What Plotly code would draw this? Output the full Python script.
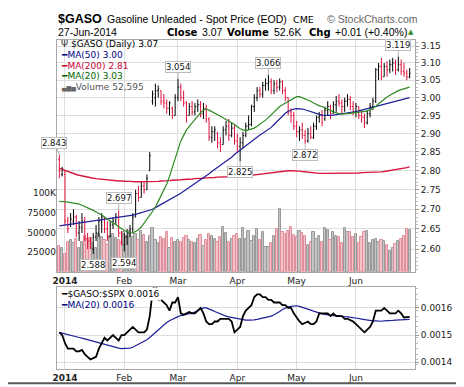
import math
import pandas as pd
import plotly.graph_objects as go

# ---------------- data ----------------
holidays = ["2014-01-01", "2014-01-20", "2014-02-17", "2014-04-18", "2014-05-26"]
dates = [d for d in pd.bdate_range("2013-12-30", "2014-06-27") if d.strftime("%Y-%m-%d") not in holidays]

opens = [2.83, 2.79, 2.79, 2.67, 2.66, 2.67, 2.68, 2.64, 2.655, 2.67, 2.625, 2.62, 2.60, 2.63, 2.64, 2.67,
         2.68, 2.65, 2.63, 2.66, 2.67, 2.68, 2.64, 2.61, 2.63, 2.64, 2.65, 2.68, 2.74, 2.73, 2.76, 2.75,
         2.80, 2.99, 3.00, 3.02, 3.02, 2.99, 2.985, 2.97, 2.97, 2.95, 3.00, 3.03, 3.00, 2.985, 2.95, 2.975,
         2.96, 2.975, 2.98, 2.955, 2.97, 2.94, 2.89, 2.905, 2.90, 2.875, 2.87, 2.91, 2.92, 2.895, 2.915,
         2.88, 2.865, 2.875, 2.895, 2.92, 2.925, 2.975, 3.00, 3.02, 3.01, 3.035, 3.04, 3.045, 3.02, 3.04,
         3.03, 3.045, 3.02, 3.00, 2.96, 2.95, 2.92, 2.905, 2.91, 2.895, 2.88, 2.90, 2.89, 2.92, 2.945,
         2.95, 2.94, 2.965, 2.975, 2.955, 2.98, 2.99, 2.985, 2.975, 2.99, 2.995, 2.975, 2.96, 2.975, 2.95,
         2.945, 2.93, 2.955, 2.975, 2.99, 3.08, 3.09, 3.06, 3.09, 3.08, 3.095, 3.10, 3.08, 3.095, 3.075,
         3.07, 3.06]
highs = [2.843, 2.81, 2.80, 2.68, 2.69, 2.70, 2.685, 2.67, 2.69, 2.68, 2.64, 2.63, 2.64, 2.66, 2.68, 2.69,
         2.68, 2.67, 2.67, 2.68, 2.69, 2.697, 2.645, 2.64, 2.65, 2.66, 2.69, 2.75, 2.76, 2.77, 2.77, 2.79,
         2.85, 3.02, 3.04, 3.035, 3.02, 3.01, 2.995, 2.99, 2.975, 3.01, 3.054, 3.04, 3.02, 2.99, 2.985,
         2.99, 2.985, 2.995, 2.99, 2.985, 2.98, 2.945, 2.92, 2.92, 2.905, 2.89, 2.92, 2.935, 2.94, 2.93,
         2.925, 2.90, 2.89, 2.905, 2.93, 2.95, 2.98, 3.01, 3.03, 3.03, 3.045, 3.055, 3.066, 3.055, 3.05,
         3.05, 3.055, 3.05, 3.03, 3.00, 2.97, 2.96, 2.935, 2.92, 2.93, 2.91, 2.915, 2.92, 2.93, 2.95,
         2.96, 2.965, 2.975, 2.99, 2.98, 2.99, 3.005, 3.01, 2.995, 3.00, 3.01, 3.005, 2.99, 2.985, 2.975,
         2.965, 2.955, 2.965, 2.985, 3.00, 3.085, 3.10, 3.115, 3.10, 3.105, 3.11, 3.115, 3.11, 3.119,
         3.11, 3.10, 3.08, 3.085]
lows = [2.78, 2.785, 2.66, 2.64, 2.655, 2.66, 2.63, 2.62, 2.64, 2.62, 2.60, 2.60, 2.588, 2.62, 2.63, 2.64,
        2.64, 2.62, 2.63, 2.65, 2.66, 2.63, 2.61, 2.594, 2.61, 2.63, 2.64, 2.68, 2.72, 2.73, 2.74, 2.75,
        2.80, 2.98, 2.975, 3.00, 2.98, 2.97, 2.955, 2.95, 2.94, 2.95, 2.99, 2.99, 2.975, 2.93, 2.95, 2.95,
        2.95, 2.96, 2.945, 2.94, 2.93, 2.88, 2.875, 2.88, 2.86, 2.85, 2.87, 2.895, 2.88, 2.89, 2.87,
        2.85, 2.825, 2.86, 2.89, 2.91, 2.92, 2.96, 2.99, 3.00, 3.00, 3.02, 3.02, 3.01, 3.01, 3.015,
        3.02, 3.01, 2.99, 2.95, 2.93, 2.91, 2.89, 2.88, 2.885, 2.872, 2.875, 2.885, 2.885, 2.91, 2.93,
        2.92, 2.935, 2.95, 2.94, 2.955, 2.96, 2.975, 2.955, 2.96, 2.975, 2.965, 2.95, 2.945, 2.94, 2.93,
        2.915, 2.925, 2.945, 2.965, 2.985, 3.05, 3.05, 3.06, 3.06, 3.07, 3.075, 3.065, 3.075, 3.065,
        3.06, 3.05, 3.055]
closes = [2.80, 2.805, 2.67, 2.65, 2.675, 2.68, 2.64, 2.655, 2.67, 2.625, 2.62, 2.605, 2.63, 2.64, 2.67,
          2.68, 2.65, 2.63, 2.66, 2.67, 2.68, 2.64, 2.615, 2.63, 2.64, 2.65, 2.68, 2.74, 2.73, 2.76, 2.75,
          2.78, 2.84, 3.01, 3.02, 3.025, 2.99, 2.985, 2.97, 2.985, 2.95, 3.00, 3.03, 3.00, 2.985, 2.95,
          2.975, 2.96, 2.975, 2.98, 2.955, 2.97, 2.94, 2.89, 2.905, 2.91, 2.875, 2.87, 2.91, 2.92, 2.895,
          2.915, 2.88, 2.865, 2.875, 2.895, 2.92, 2.925, 2.975, 3.00, 3.02, 3.01, 3.035, 3.04, 3.045,
          3.02, 3.04, 3.03, 3.045, 3.02, 3.00, 2.96, 2.95, 2.92, 2.905, 2.91, 2.895, 2.88, 2.90, 2.89,
          2.92, 2.945, 2.95, 2.93, 2.965, 2.975, 2.955, 2.98, 2.99, 2.985, 2.975, 2.99, 2.995, 2.975,
          2.96, 2.975, 2.95, 2.945, 2.93, 2.955, 2.975, 2.99, 3.08, 3.09, 3.06, 3.09, 3.08, 3.095, 3.10,
          3.08, 3.095, 3.075, 3.07, 3.06, 3.07]
volume_k = [33, 30, 22, 38, 40, 36, 42, 30, 38, 45, 41, 43, 37, 30, 48, 44, 40, 34, 45, 48, 43, 40, 38,
            50, 46, 52, 44, 48, 40, 52, 47, 38, 45, 55, 40, 36, 44, 42, 50, 30, 43, 38, 40,
            38, 43, 45, 40, 38, 36, 42, 47, 33, 40, 48, 45, 42, 38, 44, 57, 49, 38, 42, 46,
            48, 41, 55, 42, 52, 39, 46, 54, 40, 50, 32, 31, 36, 46, 54, 80, 50, 48, 52, 57,
            47, 44, 52, 49, 45, 34, 38, 50, 42, 46, 38, 55, 53, 40, 51, 45, 44, 37, 55, 50,
            51, 44, 48, 36, 44, 51, 52, 36, 40, 42, 38, 40, 39, 34, 26, 30, 35, 39, 41, 46, 54, 52.595]
ma20 = [2.72, 2.72, 2.719, 2.718, 2.717, 2.716, 2.715, 2.713, 2.71, 2.707, 2.704, 2.70, 2.697, 2.693, 2.69,
        2.685, 2.68, 2.675, 2.67, 2.665, 2.66, 2.655, 2.65, 2.646, 2.643, 2.64, 2.64, 2.643, 2.648, 2.655,
        2.665, 2.675, 2.685, 2.695, 2.705, 2.72, 2.735, 2.75, 2.765, 2.785, 2.81, 2.835, 2.86, 2.88,
        2.895, 2.91, 2.92, 2.93, 2.94, 2.95, 2.958, 2.965, 2.968, 2.965, 2.96, 2.955, 2.952, 2.948,
        2.944, 2.94, 2.935, 2.93, 2.925, 2.918, 2.913, 2.91, 2.908, 2.91, 2.912, 2.915, 2.92, 2.925, 2.93,
        2.937, 2.944, 2.952, 2.96, 2.967, 2.975, 2.98, 2.985, 2.99, 2.995, 3.0, 3.003, 3.003, 3.0, 2.998,
        2.995, 2.99, 2.985, 2.98, 2.977, 2.975, 2.972, 2.968, 2.964, 2.96, 2.957, 2.955, 2.954, 2.954,
        2.955, 2.956, 2.957, 2.958, 2.958, 2.958, 2.96, 2.962, 2.966, 2.97, 2.976, 2.983, 2.99, 2.996,
        3.002, 3.007, 3.012, 3.016, 3.02, 3.023, 3.026, 3.028, 3.03]
ma50 = [2.658, 2.659, 2.66, 2.661, 2.662, 2.663, 2.664, 2.665, 2.666, 2.667, 2.668, 2.669, 2.67,
        2.671, 2.672, 2.673, 2.674, 2.675, 2.676, 2.677, 2.678, 2.679, 2.68, 2.681, 2.682, 2.683, 2.685,
        2.687, 2.689, 2.691, 2.693, 2.695, 2.697, 2.70, 2.704, 2.708, 2.712, 2.716, 2.72, 2.724, 2.727,
        2.731, 2.736, 2.741, 2.746, 2.751, 2.756, 2.761, 2.766, 2.77, 2.775, 2.78, 2.786, 2.792, 2.798,
        2.804, 2.81, 2.815, 2.82, 2.825, 2.83, 2.836, 2.843, 2.849, 2.855, 2.86, 2.866, 2.872, 2.878,
        2.884, 2.89, 2.896, 2.901, 2.906, 2.91, 2.917, 2.925, 2.933, 2.941, 2.949, 2.956, 2.962, 2.966,
        2.968, 2.969, 2.969, 2.968, 2.966, 2.963, 2.96, 2.957, 2.955, 2.953, 2.951, 2.95, 2.95, 2.95,
        2.951, 2.952, 2.953, 2.954, 2.955, 2.957, 2.958, 2.96, 2.961, 2.963, 2.965, 2.967, 2.969, 2.971,
        2.974, 2.977, 2.979, 2.981, 2.983, 2.985, 2.987, 2.989, 2.991, 2.993, 2.995, 2.997, 2.999, 3.0]
ma200 = [2.806, 2.803, 2.80, 2.797, 2.794, 2.792, 2.79, 2.788, 2.786, 2.784, 2.782, 2.781, 2.78, 2.779,
         2.778, 2.777, 2.776, 2.775, 2.775, 2.774, 2.774,
         2.773, 2.773, 2.772, 2.772, 2.772, 2.771, 2.771, 2.771, 2.771, 2.771, 2.771, 2.771, 2.772, 2.772,
         2.772, 2.773, 2.773, 2.774, 2.774, 2.775, 2.775, 2.776,
         2.776, 2.777, 2.777, 2.778, 2.778, 2.779, 2.779, 2.78, 2.78, 2.781, 2.781, 2.782, 2.782, 2.783,
         2.783, 2.784, 2.784, 2.784, 2.785, 2.785, 2.785, 2.786, 2.786, 2.786,
         2.787, 2.788, 2.789, 2.79, 2.791, 2.792, 2.793, 2.794, 2.795, 2.796, 2.797, 2.798, 2.799, 2.80,
         2.80, 2.80,
         2.80, 2.799, 2.799, 2.798, 2.797, 2.796, 2.795, 2.794, 2.794, 2.793, 2.793, 2.793, 2.793, 2.793,
         2.793, 2.793, 2.793, 2.794, 2.794, 2.794,
         2.794, 2.794, 2.794, 2.794, 2.795, 2.795, 2.795, 2.795, 2.796, 2.796, 2.797, 2.797, 2.798, 2.799,
         2.80, 2.801, 2.802, 2.804, 2.805, 2.807, 2.808, 2.81]
ratio = [0.00151, 0.00150, 0.00147, 0.00145, 0.00145, 0.00145, 0.00144, 0.00144, 0.001445, 0.00143,
         0.00142, 0.00141, 0.001415, 0.00142, 0.00145, 0.00147, 0.00149, 0.00148, 0.00149, 0.0015,
         0.00149, 0.00148, 0.0015, 0.0015, 0.00151, 0.00152, 0.00153, 0.00152, 0.00151, 0.00151, 0.00151,
         0.00152, 0.00157, 0.00166, 0.00170, 0.00163, 0.00163, 0.00162, 0.00161, 0.00159, 0.00162,
         0.00162, 0.00164, 0.00158, 0.001575, 0.00158, 0.001585, 0.00158, 0.00158, 0.00159, 0.0016,
         0.00158, 0.00155, 0.00154, 0.00154, 0.00155, 0.00155, 0.00156, 0.00156, 0.00156, 0.00156,
         0.00155, 0.00151, 0.00152, 0.00153, 0.00157, 0.00159, 0.0016, 0.00161, 0.00164, 0.00165,
         0.00165, 0.00164, 0.00164, 0.00163, 0.00163, 0.00162, 0.00162, 0.00162, 0.00161, 0.00161,
         0.00160, 0.00160, 0.00158, 0.001565, 0.00155, 0.00154, 0.001545, 0.00155, 0.00154, 0.00154,
         0.00155, 0.00158, 0.00158, 0.00158, 0.00158, 0.00157, 0.00158, 0.00157, 0.00157, 0.00157,
         0.00156, 0.00156, 0.001555, 0.00155, 0.00154, 0.00153, 0.00152, 0.00151, 0.00152, 0.00153,
         0.00155, 0.00159, 0.00159, 0.00159, 0.0016, 0.00159, 0.00158, 0.00158, 0.00158, 0.00159,
         0.00158, 0.001565, 0.001567, 0.001567]
ratio_ma20 = [0.00151, 0.001507, 0.001504, 0.001501, 0.001498, 0.001496, 0.001494, 0.001491, 0.001489, 0.001486,
              0.001483, 0.00148, 0.001477, 0.001474, 0.001471, 0.001468, 0.001465, 0.001462, 0.001459, 0.001456,
              0.001454, 0.001452, 0.00145, 0.00145, 0.00145, 0.001452, 0.001455, 0.00146, 0.001465, 0.00147,
              0.001476, 0.001483, 0.001491, 0.0015, 0.00151, 0.00152, 0.00153, 0.001538, 0.001546, 0.001553,
              0.001559, 0.001564, 0.001568, 0.001572, 0.001575, 0.001577, 0.001579, 0.00158, 0.001585, 0.00159,
              0.001598, 0.0016, 0.0016, 0.001597, 0.001592, 0.001587, 0.001582, 0.001578, 0.001574, 0.00157,
              0.001567, 0.001565, 0.001562, 0.00156, 0.001558, 0.001556, 0.001555, 0.001555, 0.001555, 0.001556,
              0.001558, 0.00156, 0.001562, 0.001564, 0.001566, 0.00157, 0.001575, 0.00158, 0.001587, 0.001594,
              0.0016, 0.001604, 0.001606, 0.001608, 0.001608, 0.001606, 0.001603, 0.0016, 0.001596, 0.001592,
              0.001588, 0.001584, 0.00158, 0.001578, 0.001576, 0.001574, 0.001573, 0.001572, 0.001572, 0.00157,
              0.001569, 0.001568, 0.001567, 0.001566, 0.001565, 0.001563, 0.001561, 0.001559, 0.001557, 0.001555,
              0.001553, 0.001552, 0.001552, 0.001551, 0.001551, 0.001552, 0.001552, 0.001553, 0.001554, 0.001555,
              0.001556, 0.001557, 0.001557, 0.001558, 0.001558]
price_ticks = [2.60, 2.65, 2.70, 2.75, 2.80, 2.85, 2.90, 2.95, 3.00, 3.05, 3.10, 3.15]
volume_ticks = [25000, 50000, 75000, 100000]
volume_ticktext = ["25000", "50000", "75000", "100K"]
ratio_ticks = [0.0014, 0.0015, 0.0016]
high_marks = [0, 21, 42, 74, 120]   # sessions whose high is labelled
low_marks = [12, 23, 64, 87]        # sessions whose low is labelled

n = len(dates)
for arr in (opens, highs, lows, closes, volume_k, ma20, ma50, ma200, ratio, ratio_ma20):
    assert len(arr) == n, (len(arr), n)

xs = list(range(n))
month_ticks = [i for i in range(1, n) if dates[i].month != dates[i - 1].month]
month_text = ["<b>2014</b>" if dates[i].month == 1 else dates[i].strftime("%b") for i in month_ticks]

up = [closes[i] >= (closes[i - 1] if i > 0 else opens[i]) for i in range(n)]
RED = "#e0103c"
BLACK = "#000000"

# pixel helpers for layout placement (plot area: x 49..407, y 32..367)
L, R, T, B = 49, 57, 32, 20
W, H = 464, 387
def PX(x):
    return (x - L) / (W - L - R)
def PY(y):
    return (H - B - y) / (H - T - B)

fig = go.Figure()

# volume (base axis of the upper pane, left side)
fig.add_trace(go.Bar(
    x=xs, y=[v * 1000 for v in volume_k], xaxis="x", yaxis="y", width=0.8,
    marker=dict(color=["#c4c4c4" if u else "#f4c2c8" for u in up],
                line=dict(color=["#9a9a9a" if u else "#e0909c" for u in up], width=1)),
    hoverinfo="skip", showlegend=False))

# price bars, coloured by change versus previous close
for flag, col in ((True, BLACK), (False, RED)):
    idx = [i for i in range(n) if up[i] == flag]
    fig.add_trace(go.Ohlc(
        x=[xs[i] for i in idx], open=[opens[i] for i in idx], high=[highs[i] for i in idx],
        low=[lows[i] for i in idx], close=[closes[i] for i in idx],
        xaxis="x", yaxis="y2", tickwidth=0.35,
        increasing=dict(line=dict(color=col, width=1)),
        decreasing=dict(line=dict(color=col, width=1)),
        hoverinfo="skip", showlegend=False))

for vals, col, w in ((ma200, "#d8173f", 1.4), (ma50, "#1f1f99", 1.2), (ma20, "#2e8b22", 1.2)):
    fig.add_trace(go.Scatter(x=xs, y=vals, mode="lines", xaxis="x", yaxis="y2",
                             line=dict(color=col, width=w), hoverinfo="skip", showlegend=False))

# lower pane
fig.add_trace(go.Scatter(x=xs, y=ratio_ma20, mode="lines", xaxis="x2", yaxis="y3",
                         line=dict(color="#1f1f99", width=1.2), hoverinfo="skip", showlegend=False))
fig.add_trace(go.Scatter(x=xs, y=ratio, mode="lines", xaxis="x2", yaxis="y3",
                         line=dict(color="#000000", width=1.8), hoverinfo="skip", showlegend=False))

GRID = "#dedede"
FRAME = "#a8a8a8"
tickfont = dict(family="DejaVu Sans", size=9, color="#222")
xr = [-0.83, 125.9]

annotations = []
# price extremes labels
for i in high_marks:
    annotations.append(dict(x=xs[i], y=math.log10(highs[i]), xref="x", yref="y2",
                            text=f"{highs[i]:.3f}", showarrow=True, arrowhead=0, arrowwidth=1,
                            arrowcolor="#b5b5b5", ax=(-5 if i == 0 else 0), ay=-12,
                            bgcolor="white", bordercolor="#bdbdbd", borderwidth=1, borderpad=0,
                            font=dict(family="DejaVu Sans", size=8.5, color="#111")))
for i in low_marks:
    annotations.append(dict(x=xs[i], y=math.log10(lows[i]), xref="x", yref="y2",
                            text=f"{lows[i]:.3f}", showarrow=True, arrowhead=0, arrowwidth=1,
                            arrowcolor="#b5b5b5", ax=0, ay=11,
                            bgcolor="white", bordercolor="#bdbdbd", borderwidth=1, borderpad=0,
                            font=dict(family="DejaVu Sans", size=8.5, color="#111")))

def txt(x, y, text, size, color="#000", family="Liberation Sans", bg=None):
    d = dict(x=PX(x), y=PY(y), xref="paper", yref="paper", text=text, showarrow=False,
             xanchor="left", yanchor="middle", font=dict(family=family, size=size, color=color))
    if bg:
        d["bgcolor"] = bg
    annotations.append(d)

# header
txt(48, 10.5, "<b>$GASO</b>", 12.5, "#000", "Liberation Sans")
txt(97, 11, "Gasoline Unleaded - Spot Price (EOD)", 10.5)
txt(283, 11.5, "CME", 9.5, "#000", "DejaVu Sans")
txt(317, 11, "© StockCharts.com", 10.5, "#666")
txt(48, 24, "27-Jun-2014", 10.5)
txt(157, 24, "<b>Close</b>", 10, "#000", "DejaVu Sans")
txt(192, 24, "3.07", 10.5)
txt(217, 24, "<b>Volume</b>", 10, "#000", "DejaVu Sans")
txt(264, 24, "52.6K", 10.5)
txt(299, 24, "<b>Chg</b>", 10, "#000", "DejaVu Sans")
txt(325, 24, "+0.01 (+0.40%)", 10.5)
txt(398, 24, "▲", 7, "#2e8b22", "DejaVu Sans")

# upper legend
txt(51, 36, "<span style='color:#333'>Ψ</span> $GASO (Daily) 3.07", 9, "#000", "DejaVu Sans")
txt(51, 47, "━MA(50) 3.00", 9, "#000080", "DejaVu Sans")
txt(51, 58, "━MA(200) 2.81", 9, "#cc0033", "DejaVu Sans")
txt(51, 69, "━MA(20) 3.03", 9, "#006400", "DejaVu Sans")
txt(51, 80, "<span style='font-size:6px;color:#666'>▄▆▅</span>Volume 52,595", 9, "#555", "DejaVu Sans")
# lower legend
txt(51, 291, "━$GASO:$SPX 0.0016", 9, "#000", "DejaVu Sans", bg="white")
txt(51, 302, "━MA(20) 0.0016", 9, "#000080", "DejaVu Sans")

shapes = [
    dict(type="line", xref="paper", yref="paper", x0=PX(461.5), x1=PX(461.5), y0=PY(0), y1=PY(382),
         line=dict(color="#5a5a5a", width=2)),
    dict(type="line", xref="paper", yref="paper", x0=PX(0), x1=PX(462), y0=PY(381.5), y1=PY(381.5),
         line=dict(color="#5a5a5a", width=2)),
]

fig.update_layout(
    width=W, height=H, margin=dict(l=L, r=R, t=T, b=B, pad=0),
    paper_bgcolor="white", plot_bgcolor="white", showlegend=False, hovermode=False,
    bargap=0,
    xaxis=dict(domain=[0, 1], range=xr, anchor="y", tickmode="array", tickvals=month_ticks,
               ticktext=month_text, showgrid=True, gridcolor=GRID, gridwidth=1, zeroline=False,
               showline=True, mirror=True, linecolor=FRAME, linewidth=1, ticks="",
               tickfont=tickfont, rangeslider=dict(visible=False)),
    yaxis=dict(domain=[PY(268), 1], range=[0, 294000], side="left", tickmode="array",
               tickvals=volume_ticks, ticktext=volume_ticktext, showgrid=False, zeroline=False,
               showline=False, ticks="", tickfont=tickfont, fixedrange=True),
    yaxis2=dict(overlaying="y", anchor="x", type="log", side="right",
                range=[math.log10(2.545), math.log10(3.168)], tickmode="array",
                tickvals=price_ticks, ticktext=[f"{v:.2f}" for v in price_ticks],
                showgrid=True, gridcolor=GRID, gridwidth=1, zeroline=False,
                showline=True, mirror=True, linecolor=FRAME, linewidth=1,
                ticks="outside", ticklen=3, tickcolor="#999", tickfont=tickfont,
                minor=dict(tickvals=[round(2.55 + 0.01 * k, 2) for k in range(62)],
                           ticks="outside", ticklen=2, tickcolor="#bbb", showgrid=False)),
    xaxis2=dict(domain=[0, 1], range=xr, anchor="y3", matches="x", tickmode="array",
                tickvals=month_ticks, ticktext=month_text, showgrid=True, gridcolor=GRID,
                zeroline=False, showline=True, mirror=True, linecolor=FRAME, linewidth=1,
                ticks="", tickfont=tickfont, rangeslider=dict(visible=False)),
    yaxis3=dict(domain=[0, PY(283)], anchor="x2", range=[0.001375, 0.001679], side="right",
                tickmode="array", tickvals=ratio_ticks, ticktext=["0.0014", "0.0015", "0.0016"],
                showgrid=True, gridcolor=GRID, zeroline=False, showline=True, mirror=True,
                linecolor=FRAME, linewidth=1, ticks="outside", ticklen=3, tickcolor="#999",
                tickfont=tickfont, ticklabeloverflow="allow",
                minor=dict(tickvals=[0.00139 + 0.00002 * k for k in range(15)], ticks="outside",
                           ticklen=2, tickcolor="#bbb", showgrid=False)),
    annotations=annotations, shapes=shapes,
)

fig.write_html("out.html")
